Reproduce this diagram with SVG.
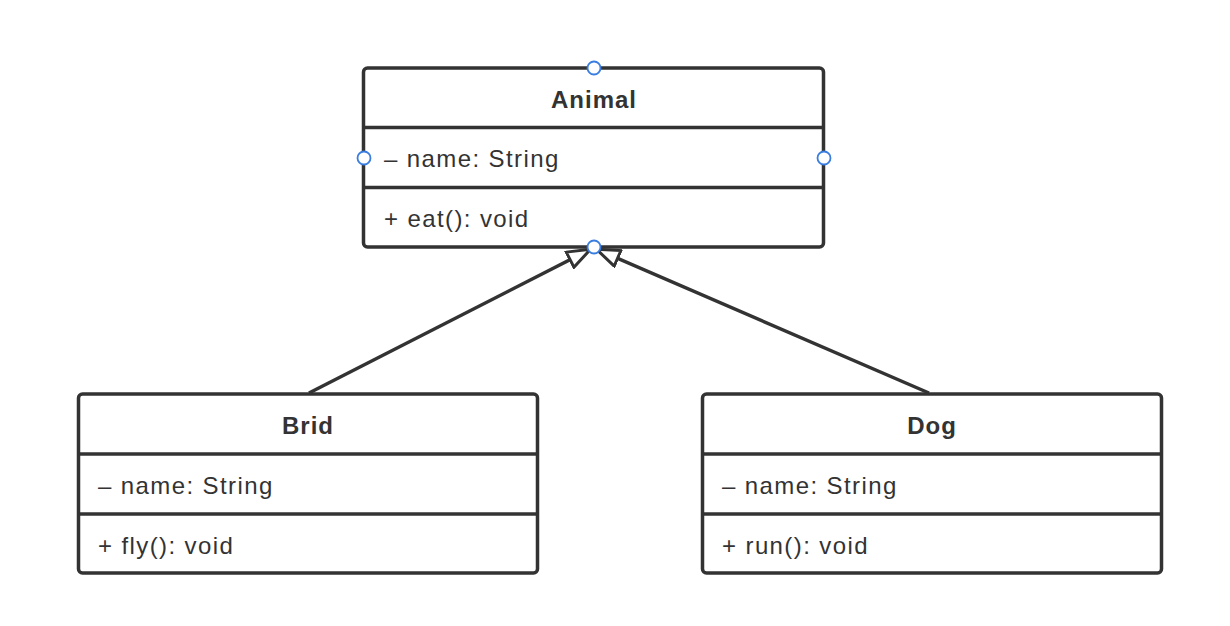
<svg xmlns="http://www.w3.org/2000/svg" width="1230" height="626" viewBox="0 0 1230 626">
<defs>
<style>
.box{fill:#fff;stroke:#333;stroke-width:3.5}
.div{stroke:#333;stroke-width:3.5}
.title{font-family:"Liberation Sans",Arial,sans-serif;font-size:24px;font-weight:bold;fill:#333;text-anchor:middle;letter-spacing:1px}
.item{font-family:"Liberation Sans",Arial,sans-serif;font-size:24px;fill:#333;letter-spacing:1.4px}
.edge{fill:none;stroke:#333;stroke-width:3.5}
.port{fill:#fff;stroke:#3a7de0;stroke-width:1.8}
</style>
<marker id="tri" viewBox="0 0 26 20" refX="25" refY="10" markerWidth="26" markerHeight="20" markerUnits="userSpaceOnUse" orient="auto">
<path d="M1.5,1.5 L24.5,10 L1.5,18.5 Z" fill="#fff" stroke="#333" stroke-width="3" stroke-linejoin="miter"/>
</marker>
</defs>
<rect width="1230" height="626" fill="#fff"/>
<g id="connectors">
<path class="edge" d="M309,393 L591,249" marker-end="url(#tri)"/>
<path class="edge" d="M929,393 L596,249" marker-end="url(#tri)"/>
</g>
<g id="animal">
<rect class="box" x="363.5" y="68" width="460" height="179" rx="4"/>
<line class="div" x1="363.5" y1="127.5" x2="823.5" y2="127.5"/>
<line class="div" x1="363.5" y1="187.5" x2="823.5" y2="187.5"/>
<text class="title" x="594" y="108">Animal</text>
<text class="item" x="384" y="167">– name: String</text>
<text class="item" x="384" y="227">+ eat(): void</text>
</g>
<g id="brid">
<rect class="box" x="78.5" y="394" width="459" height="179" rx="4"/>
<line class="div" x1="78.5" y1="454" x2="537.5" y2="454"/>
<line class="div" x1="78.5" y1="514" x2="537.5" y2="514"/>
<text class="title" x="308" y="434">Brid</text>
<text class="item" x="98" y="494">– name: String</text>
<text class="item" x="98" y="554">+ fly(): void</text>
</g>
<g id="dog">
<rect class="box" x="702.5" y="394" width="459" height="179" rx="4"/>
<line class="div" x1="702.5" y1="454" x2="1161.5" y2="454"/>
<line class="div" x1="702.5" y1="514" x2="1161.5" y2="514"/>
<text class="title" x="932" y="434">Dog</text>
<text class="item" x="722" y="494">– name: String</text>
<text class="item" x="722" y="554">+ run(): void</text>
</g>
<g id="ports">
<circle class="port" cx="594" cy="68" r="6.5"/>
<circle class="port" cx="364" cy="158" r="6.5"/>
<circle class="port" cx="824" cy="158" r="6.5"/>
<circle class="port" cx="594" cy="247" r="6.5"/>
</g>
</svg>
